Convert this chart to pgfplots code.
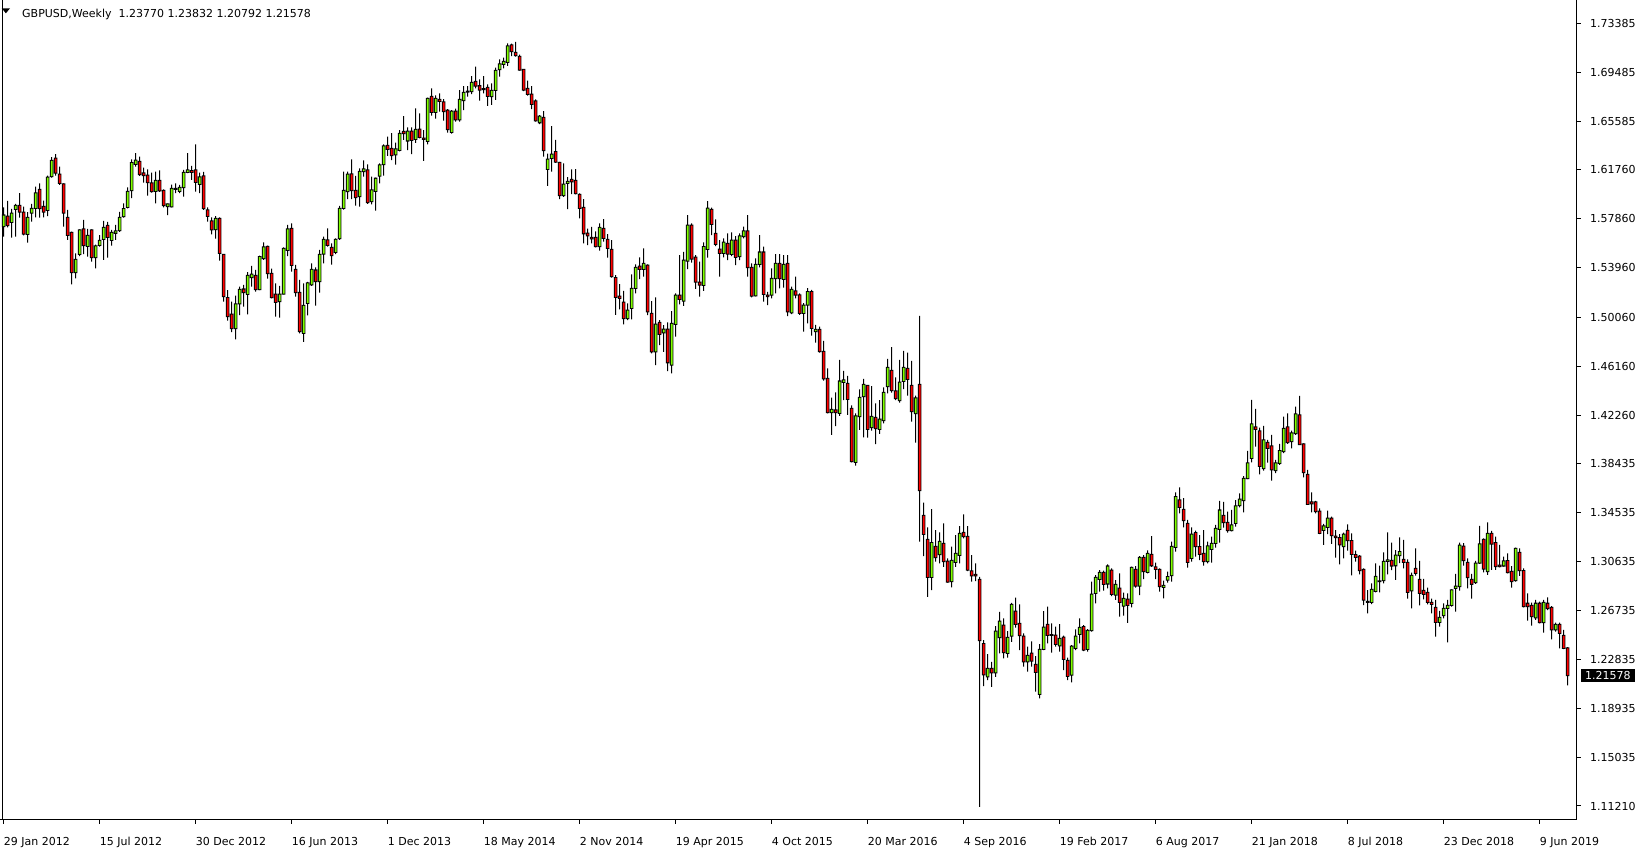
\documentclass[border=0pt]{standalone}
\usepackage{fontspec}
\setmainfont{DejaVu Sans}
\usepackage{pgfplots}
\usepackage{pgfplotstable}
\pgfplotsset{compat=1.18}
\definecolor{upc}{RGB}{127,255,0}
\definecolor{dnc}{RGB}{255,0,0}
\pgfplotstableread{
o h l c
1.5725 1.5878 1.5645 1.5817
1.5809 1.5929 1.5719 1.5733
1.5759 1.5865 1.5637 1.5831
1.5862 1.5905 1.5645 1.5894
1.5894 1.5990 1.5796 1.5839
1.5839 1.5884 1.5656 1.5666
1.5664 1.5839 1.5597 1.5799
1.5831 1.5905 1.5764 1.5870
1.5870 1.6043 1.5799 1.5992
1.6021 1.6069 1.5796 1.5868
1.5886 1.5931 1.5799 1.5839
1.5854 1.6130 1.5809 1.6117
1.6122 1.6276 1.6114 1.6252
1.6268 1.6300 1.6130 1.6149
1.6141 1.6202 1.6056 1.6069
1.6064 1.6069 1.5725 1.5831
1.5799 1.5857 1.5619 1.5656
1.5679 1.5685 1.5266 1.5359
1.5359 1.5513 1.5314 1.5465
1.5505 1.5703 1.5491 1.5698
1.5706 1.5778 1.5507 1.5573
1.5568 1.5706 1.5486 1.5656
1.5698 1.5703 1.5446 1.5478
1.5478 1.5581 1.5393 1.5571
1.5576 1.5658 1.5566 1.5616
1.5624 1.5770 1.5460 1.5719
1.5735 1.5762 1.5478 1.5640
1.5616 1.5698 1.5573 1.5679
1.5672 1.5738 1.5619 1.5690
1.5693 1.5841 1.5682 1.5799
1.5804 1.5910 1.5796 1.5868
1.5878 1.6037 1.5870 1.6005
1.6011 1.6260 1.5952 1.6233
1.6220 1.6308 1.6202 1.6254
1.6244 1.6281 1.6127 1.6138
1.6151 1.6194 1.6074 1.6130
1.6133 1.6180 1.5971 1.6074
1.6072 1.6154 1.5995 1.6003
1.6005 1.6162 1.5910 1.6093
1.6093 1.6172 1.6000 1.6008
1.6013 1.6021 1.5878 1.5891
1.5884 1.5907 1.5817 1.5905
1.5881 1.6058 1.5878 1.6029
1.6021 1.6069 1.5990 1.6029
1.6005 1.6056 1.5990 1.6037
1.6035 1.6175 1.5963 1.6156
1.6156 1.6308 1.6149 1.6175
1.6170 1.6207 1.6096 1.6156
1.6175 1.6379 1.6003 1.6077
1.6061 1.6154 1.5990 1.6119
1.6127 1.6159 1.5857 1.5868
1.5857 1.5878 1.5764 1.5807
1.5770 1.5799 1.5664 1.5698
1.5701 1.5809 1.5629 1.5791
1.5791 1.5799 1.5454 1.5513
1.5505 1.5507 1.5128 1.5168
1.5160 1.5221 1.4977 1.5009
1.5030 1.5128 1.4887 1.4914
1.4914 1.5176 1.4829 1.5110
1.5110 1.5248 1.5022 1.5226
1.5229 1.5261 1.5089 1.5200
1.5187 1.5364 1.5028 1.5338
1.5319 1.5412 1.5248 1.5348
1.5338 1.5380 1.5208 1.5224
1.5224 1.5494 1.5221 1.5486
1.5470 1.5600 1.5460 1.5563
1.5568 1.5573 1.5311 1.5351
1.5354 1.5391 1.5155 1.5160
1.5189 1.5274 1.5009 1.5123
1.5128 1.5253 1.5001 1.5189
1.5189 1.5560 1.5187 1.5552
1.5536 1.5738 1.5491 1.5706
1.5711 1.5751 1.5367 1.5417
1.5385 1.5420 1.5168 1.5200
1.5202 1.5301 1.4877 1.4890
1.4877 1.5274 1.4808 1.5099
1.5115 1.5285 1.5020 1.5277
1.5261 1.5433 1.5253 1.5385
1.5380 1.5401 1.5097 1.5287
1.5287 1.5539 1.5200 1.5505
1.5507 1.5645 1.5433 1.5624
1.5619 1.5711 1.5566 1.5576
1.5560 1.5592 1.5422 1.5494
1.5520 1.5632 1.5507 1.5624
1.5629 1.5889 1.5619 1.5870
1.5870 1.6162 1.5860 1.6013
1.6003 1.6162 1.5944 1.6141
1.6143 1.6260 1.5944 1.6011
1.6013 1.6127 1.5891 1.5955
1.5963 1.6188 1.5884 1.6164
1.6162 1.6252 1.6122 1.6183
1.6175 1.6220 1.5905 1.5915
1.5923 1.6122 1.5902 1.6016
1.6005 1.6114 1.5852 1.6109
1.6125 1.6228 1.6069 1.6215
1.6217 1.6379 1.6130 1.6366
1.6371 1.6440 1.6286 1.6339
1.6347 1.6467 1.6254 1.6289
1.6294 1.6392 1.6217 1.6342
1.6330 1.6492 1.6322 1.6466
1.6481 1.6603 1.6413 1.6463
1.6405 1.6513 1.6333 1.6484
1.6484 1.6513 1.6301 1.6410
1.6418 1.6664 1.6391 1.6497
1.6500 1.6625 1.6426 1.6434
1.6428 1.6492 1.6248 1.6418
1.6402 1.6749 1.6378 1.6744
1.6760 1.6823 1.6606 1.6632
1.6632 1.6768 1.6582 1.6744
1.6736 1.6784 1.6638 1.6720
1.6715 1.6738 1.6566 1.6638
1.6651 1.6659 1.6471 1.6495
1.6473 1.6651 1.6463 1.6643
1.6643 1.6662 1.6558 1.6572
1.6572 1.6810 1.6558 1.6736
1.6725 1.6842 1.6651 1.6791
1.6794 1.6842 1.6757 1.6802
1.6797 1.6921 1.6778 1.6871
1.6879 1.6996 1.6823 1.6842
1.6844 1.6895 1.6725 1.6810
1.6821 1.6921 1.6784 1.6813
1.6831 1.6855 1.6685 1.6760
1.6757 1.6863 1.6693 1.6807
1.6807 1.6988 1.6731 1.6966
1.6972 1.7054 1.6916 1.7017
1.7014 1.7067 1.6982 1.7038
1.7030 1.7181 1.7001 1.7160
1.7168 1.7178 1.7080 1.7115
1.7109 1.7192 1.7075 1.7083
1.7078 1.7091 1.6964 1.6969
1.6974 1.6977 1.6802 1.6810
1.6823 1.6884 1.6765 1.6776
1.6778 1.6842 1.6659 1.6696
1.6723 1.6736 1.6558 1.6564
1.6550 1.6611 1.6540 1.6603
1.6593 1.6643 1.6280 1.6328
1.6179 1.6304 1.6049 1.6261
1.6267 1.6524 1.6161 1.6301
1.6320 1.6413 1.6232 1.6238
1.6235 1.6240 1.5943 1.5970
1.5970 1.6227 1.5962 1.6063
1.6068 1.6118 1.5864 1.6084
1.6100 1.6179 1.5983 1.6081
1.6092 1.6182 1.5980 1.5986
1.5980 1.5988 1.5790 1.5869
1.5877 1.5943 1.5591 1.5668
1.5673 1.5708 1.5578 1.5652
1.5639 1.5723 1.5591 1.5628
1.5639 1.5686 1.5559 1.5565
1.5565 1.5751 1.5533 1.5719
1.5711 1.5785 1.5605 1.5631
1.5623 1.5666 1.5478 1.5552
1.5544 1.5618 1.5319 1.5327
1.5320 1.5340 1.5024 1.5162
1.5173 1.5268 1.5067 1.5154
1.5125 1.5215 1.4948 1.4993
1.4993 1.5115 1.4982 1.5062
1.5075 1.5345 1.4987 1.5234
1.5234 1.5425 1.5194 1.5401
1.5411 1.5480 1.5308 1.5385
1.5385 1.5552 1.5327 1.5433
1.5419 1.5425 1.5022 1.5048
1.5035 1.5133 1.4717 1.4730
1.4730 1.5162 1.4624 1.4950
1.4963 1.4982 1.4783 1.4868
1.4881 1.4942 1.4730 1.4910
1.4910 1.4963 1.4577 1.4643
1.4624 1.5054 1.4558 1.4956
1.4948 1.5194 1.4850 1.5181
1.5181 1.5499 1.5107 1.5146
1.5133 1.5525 1.5094 1.5459
1.5451 1.5817 1.5387 1.5737
1.5737 1.5751 1.5438 1.5467
1.5483 1.5499 1.5231 1.5284
1.5284 1.5446 1.5168 1.5260
1.5258 1.5599 1.5215 1.5565
1.5544 1.5928 1.5478 1.5872
1.5862 1.5875 1.5658 1.5743
1.5671 1.5782 1.5570 1.5584
1.5546 1.5618 1.5327 1.5512
1.5512 1.5631 1.5480 1.5602
1.5592 1.5671 1.5459 1.5507
1.5504 1.5679 1.5491 1.5618
1.5618 1.5650 1.5419 1.5480
1.5486 1.5671 1.5459 1.5652
1.5645 1.5724 1.5631 1.5690
1.5690 1.5817 1.5327 1.5398
1.5401 1.5433 1.5162 1.5173
1.5175 1.5472 1.5170 1.5425
1.5425 1.5658 1.5401 1.5523
1.5523 1.5565 1.5128 1.5186
1.5181 1.5207 1.5101 1.5168
1.5181 1.5393 1.5154 1.5313
1.5311 1.5507 1.5194 1.5433
1.5433 1.5507 1.5234 1.5311
1.5305 1.5499 1.5239 1.5425
1.5433 1.5499 1.5014 1.5048
1.5040 1.5247 1.5030 1.5226
1.5215 1.5327 1.5154 1.5181
1.5182 1.5195 1.5023 1.5036
1.5036 1.5116 1.4890 1.5100
1.5100 1.5235 1.4956 1.5208
1.5208 1.5222 1.4858 1.4917
1.4890 1.4943 1.4803 1.4909
1.4909 1.4930 1.4723 1.4731
1.4734 1.4816 1.4501 1.4514
1.4519 1.4599 1.4241 1.4246
1.4246 1.4366 1.4069 1.4273
1.4268 1.4408 1.4140 1.4246
1.4241 1.4665 1.4220 1.4498
1.4487 1.4578 1.4347 1.4506
1.4479 1.4538 1.4228 1.4352
1.4281 1.4305 1.3852 1.3857
1.3852 1.4241 1.3825 1.4220
1.4215 1.4432 1.4109 1.4368
1.4374 1.4514 1.4050 1.4472
1.4464 1.4466 1.4048 1.4114
1.4127 1.4458 1.4103 1.4217
1.4209 1.4320 1.3997 1.4119
1.4114 1.4347 1.4077 1.4196
1.4183 1.4448 1.4162 1.4408
1.4453 1.4673 1.4400 1.4607
1.4583 1.4768 1.4405 1.4421
1.4419 1.4527 1.4347 1.4358
1.4342 1.4665 1.4326 1.4490
1.4495 1.4737 1.4434 1.4607
1.4599 1.4723 1.4381 1.4511
1.4464 1.4657 1.4175 1.4254
1.4238 1.4381 1.4008 1.4363
1.4472 1.5015 1.3221 1.3626
1.3430 1.3531 1.3107 1.3279
1.3239 1.3335 1.2783 1.2937
1.2937 1.3480 1.2837 1.3213
1.3184 1.3314 1.3062 1.3094
1.3118 1.3295 1.3049 1.3223
1.3208 1.3367 1.3022 1.3062
1.3067 1.3088 1.2895 1.2900
1.2903 1.3181 1.2858 1.3072
1.3056 1.3274 1.3022 1.3128
1.3112 1.3345 1.3049 1.3287
1.3295 1.3438 1.3247 1.3261
1.3263 1.3345 1.2988 1.2996
1.2990 1.3115 1.2903 1.2950
1.2961 1.3049 1.2908 1.2950
1.2921 1.2942 1.1114 1.2436
1.2412 1.2439 1.2073 1.2163
1.2147 1.2328 1.2121 1.2214
1.2214 1.2267 1.2068 1.2179
1.2179 1.2550 1.2147 1.2511
1.2458 1.2664 1.2333 1.2590
1.2559 1.2612 1.2294 1.2339
1.2334 1.2511 1.2299 1.2461
1.2471 1.2736 1.2426 1.2723
1.2670 1.2776 1.2538 1.2564
1.2572 1.2723 1.2360 1.2474
1.2471 1.2492 1.2228 1.2267
1.2267 1.2387 1.2188 1.2318
1.2336 1.2429 1.2228 1.2273
1.2246 1.2312 1.2029 1.2183
1.2008 1.2408 1.1976 1.2365
1.2365 1.2670 1.2360 1.2543
1.2564 1.2705 1.2413 1.2477
1.2482 1.2572 1.2339 1.2477
1.2479 1.2546 1.2387 1.2405
1.2394 1.2567 1.2347 1.2453
1.2463 1.2474 1.2201 1.2286
1.2278 1.2299 1.2121 1.2151
1.2161 1.2400 1.2103 1.2392
1.2373 1.2524 1.2360 1.2471
1.2485 1.2612 1.2413 1.2540
1.2546 1.2559 1.2352 1.2360
1.2365 1.2527 1.2347 1.2516
1.2514 1.2903 1.2506 1.2805
1.2811 1.2956 1.2731 1.2938
1.2922 1.2996 1.2824 1.2977
1.2977 1.2991 1.2832 1.2882
1.2885 1.3041 1.2850 1.3028
1.2996 1.3009 1.2789 1.2803
1.2797 1.2916 1.2758 1.2882
1.2853 1.2970 1.2625 1.2739
1.2710 1.2816 1.2633 1.2771
1.2765 1.2810 1.2577 1.2715
1.2731 1.3023 1.2699 1.3017
1.3001 1.3028 1.2856 1.2869
1.2869 1.3107 1.2797 1.3097
1.3097 1.3115 1.2924 1.2983
1.2977 1.3152 1.2970 1.3128
1.3121 1.3266 1.3022 1.3030
1.3022 1.3054 1.2924 1.3001
1.3001 1.3009 1.2824 1.2864
1.2858 1.2911 1.2771 1.2874
1.2916 1.2983 1.2895 1.2943
1.2951 1.3221 1.2903 1.3184
1.3176 1.3613 1.3142 1.3579
1.3553 1.3653 1.3447 1.3494
1.3478 1.3568 1.3335 1.3388
1.3367 1.3394 1.3015 1.3057
1.3089 1.3335 1.3062 1.3282
1.3293 1.3309 1.3102 1.3181
1.3182 1.3274 1.3075 1.3121
1.3128 1.3314 1.3030 1.3062
1.3062 1.3221 1.3049 1.3187
1.3160 1.3261 1.3054 1.3208
1.3208 1.3354 1.3174 1.3327
1.3319 1.3545 1.3213 1.3473
1.3431 1.3537 1.3333 1.3372
1.3375 1.3460 1.3293 1.3309
1.3309 1.3473 1.3303 1.3354
1.3367 1.3552 1.3341 1.3505
1.3507 1.3606 1.3494 1.3560
1.3547 1.3743 1.3454 1.3725
1.3722 1.3942 1.3719 1.3847
1.3884 1.4348 1.3852 1.4157
1.4133 1.4276 1.3977 1.4114
1.4101 1.4128 1.3757 1.3820
1.3802 1.4141 1.3786 1.4030
1.4011 1.4030 1.3849 1.3963
1.3982 1.4069 1.3706 1.3791
1.3786 1.3871 1.3765 1.3847
1.3844 1.3998 1.3831 1.3945
1.3937 1.4215 1.3924 1.4122
1.4133 1.4241 1.3998 1.4008
1.4016 1.4104 1.3963 1.4085
1.4080 1.4295 1.4069 1.4236
1.4228 1.4379 1.3990 1.3992
1.3998 1.4003 1.3733 1.3770
1.3757 1.3791 1.3513 1.3518
1.3537 1.3613 1.3454 1.3521
1.3537 1.3545 1.3447 1.3460
1.3465 1.3486 1.3282 1.3288
1.3311 1.3362 1.3195 1.3346
1.3335 1.3468 1.3282 1.3409
1.3409 1.3420 1.3203 1.3269
1.3266 1.3314 1.3094 1.3253
1.3253 1.3282 1.3041 1.3195
1.3182 1.3293 1.3089 1.3282
1.3311 1.3359 1.3150 1.3229
1.3229 1.3288 1.2954 1.3121
1.3118 1.3150 1.3062 1.3097
1.3107 1.3115 1.2962 1.2991
1.3001 1.3009 1.2718 1.2757
1.2747 1.2837 1.2652 1.2739
1.2739 1.2890 1.2726 1.2842
1.2826 1.3049 1.2818 1.2946
1.2903 1.3031 1.2818 1.2909
1.2911 1.3136 1.2890 1.3065
1.3065 1.3296 1.2962 1.3076
1.3073 1.3213 1.2996 1.3028
1.3030 1.3155 1.2917 1.3115
1.3110 1.3256 1.3050 1.3142
1.3081 1.3235 1.3010 1.3057
1.3057 1.3081 1.2769 1.2819
1.2830 1.2975 1.2692 1.2954
1.3010 1.3169 1.2951 1.2970
1.2922 1.3068 1.2716 1.2811
1.2835 1.2925 1.2763 1.2803
1.2819 1.2856 1.2724 1.2739
1.2739 1.2769 1.2652 1.2724
1.2700 1.2758 1.2467 1.2580
1.2580 1.2671 1.2546 1.2620
1.2633 1.2732 1.2612 1.2692
1.2692 1.2758 1.2421 1.2716
1.2716 1.2843 1.2705 1.2838
1.2851 1.2965 1.2665 1.2869
1.2864 1.3214 1.2832 1.3193
1.3185 1.3209 1.3031 1.3071
1.3057 1.3089 1.2851 1.2936
1.2922 1.2965 1.2769 1.2883
1.2896 1.3068 1.2885 1.3050
1.3050 1.3346 1.3044 1.3203
1.3240 1.3248 1.2978 1.3004
1.2983 1.3375 1.2957 1.3288
1.3288 1.3307 1.2997 1.3201
1.3214 1.3262 1.2997 1.3023
1.3034 1.3195 1.3018 1.3023
1.3028 1.3103 1.3023 1.3068
1.3071 1.3129 1.2970 1.2975
1.2986 1.3028 1.2856 1.2904
1.2912 1.3174 1.2904 1.3169
1.3137 1.3169 1.2949 1.2991
1.2991 1.3010 1.2700 1.2705
1.2732 1.2811 1.2594 1.2705
1.2716 1.2737 1.2554 1.2626
1.2615 1.2758 1.2599 1.2732
1.2732 1.2745 1.2573 1.2578
1.2578 1.2758 1.2498 1.2739
1.2732 1.2779 1.2678 1.2689
1.2700 1.2710 1.2445 1.2520
1.2520 1.2578 1.2506 1.2565
1.2565 1.2578 1.2374 1.2493
1.2477 1.2520 1.2368 1.2374
1.23770 1.23832 1.20792 1.21578
}\candles
\pgfplotsset{
  candlebase/.style={
    at={(0pt,0pt)}, anchor=south west,
    scale only axis, width=1577pt, height=820pt,
    xmin=-0.925, xmax=393.325, ymin=1.10098, ymax=1.75255,
    enlargelimits=false, ybar stacked, clip=true,
  },
}
\begin{document}
\begin{tikzpicture}[x=1pt,y=1pt]
\useasboundingbox (0,-30) rectangle (1642,820);
% axis with frame, ticks and wicks
\begin{axis}[candlebase, bar width=1pt,
  axis x line*=bottom, axis y line*=right,
  axis line style={-, line width=1pt, black},
  xtick={0,24,...,384},
  xticklabels={29 Jan 2012,15 Jul 2012,30 Dec 2012,16 Jun 2013,1 Dec 2013,18 May 2014,2 Nov 2014,19 Apr 2015,4 Oct 2015,20 Mar 2016,4 Sep 2016,19 Feb 2017,6 Aug 2017,21 Jan 2018,8 Jul 2018,23 Dec 2018,9 Jun 2019},
  ytick={1.11210,1.15035,1.18935,1.22835,1.26735,1.30635,1.34535,1.38435,1.42260,1.46160,1.50060,1.53960,1.57860,1.61760,1.65585,1.69485,1.73385},
  yticklabels={1.11210,1.15035,1.18935,1.22835,1.26735,1.30635,1.34535,1.38435,1.42260,1.46160,1.50060,1.53960,1.57860,1.61760,1.65585,1.69485,1.73385},
  tick align=outside, major tick length=4pt,
  tick style={black, line width=1pt},
  xticklabel style={anchor=base west, inner sep=0pt, yshift=-22pt, font=\fontsize{11}{13}\selectfont},
  yticklabel style={anchor=west, inner sep=0pt, xshift=9pt, font=\fontsize{11}{13}\selectfont},
]
\addplot[draw=none, fill=none] table[x expr=\coordindex, y=l] {\candles};
\addplot[draw=none, fill=black] table[x expr=\coordindex, y expr={\thisrow{h}-\thisrow{l}}] {\candles};
\draw[black, line width=1pt] (axis cs:-0.25,1.10098) -- (axis cs:-0.25,1.75255);
\end{axis}
% body outlines
\begin{axis}[candlebase, hide axis, bar width=3.6pt]
\addplot[draw=none, fill=none] table[x expr=\coordindex, y expr={min(\thisrow{o},\thisrow{c})-0.0004}] {\candles};
\addplot[draw=none, fill=black] table[x expr=\coordindex, y expr={abs(\thisrow{c}-\thisrow{o})+0.0008}] {\candles};
\end{axis}
% body interiors
\begin{axis}[candlebase, hide axis, bar width=1.7pt]
\addplot[draw=none, fill=none] table[x expr=\coordindex, y expr={min(\thisrow{o},\thisrow{c})+0.0004}] {\candles};
\addplot[draw=none, fill=upc] table[x expr=\coordindex, y expr={max(\thisrow{c}-\thisrow{o}-0.0008,0)}] {\candles};
\addplot[draw=none, fill=dnc] table[x expr=\coordindex, y expr={max(\thisrow{o}-\thisrow{c}-0.0008,0)}] {\candles};
\end{axis}
% last price marker on the price scale (1.21578)
\node[fill=black, text=white, anchor=west, inner xsep=4pt, inner ysep=2.5pt, font=\fontsize{11}{13}\selectfont]
  at (1581pt,144.5pt) {1.21578};
\fill[black] (1.7pt,811.7pt) -- (10pt,811.7pt) -- (5.9pt,806.7pt) -- cycle;
\node[anchor=base west, inner sep=0pt, font=\fontsize{11}{13}\selectfont] at (22pt,802.7pt) {GBPUSD,Weekly\ \ 1.23770 1.23832 1.20792 1.21578};
\end{tikzpicture}
\end{document}
